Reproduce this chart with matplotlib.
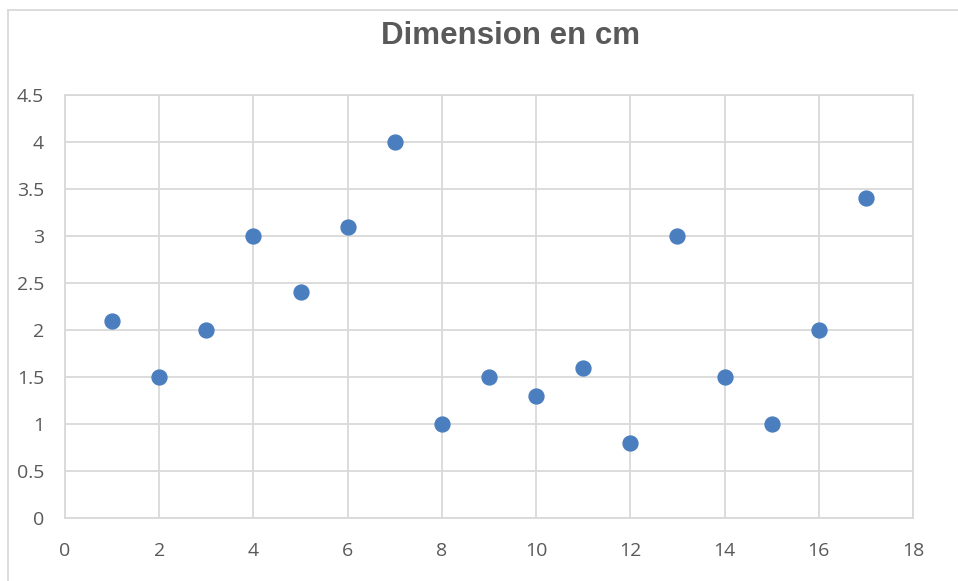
import numpy as np
import matplotlib.pyplot as plt
from matplotlib.lines import Line2D

# Données
x_vals = [1, 2, 3, 4, 5, 6, 7, 8, 9, 10, 11, 12, 13, 14, 15, 16, 17]
y_vals = [2.1, 1.5, 2.0, 3.0, 2.4, 3.1, 4.0, 1.0, 1.5, 1.3, 1.6, 0.8, 3.0, 1.5, 1.0, 2.0, 3.4]
x_ticks = [0, 2, 4, 6, 8, 10, 12, 14, 16, 18]
y_ticks = [0, 0.5, 1, 1.5, 2, 2.5, 3, 3.5, 4, 4.5]
y_labels = ["0", "0.5", "1", "1.5", "2", "2.5", "3", "3.5", "4", "4.5"]

grid_col = "#D9D9D9"
text_col = "#595959"

fig = plt.figure(figsize=(9.58, 5.81), dpi=100)
ax = fig.add_axes([65/958, 1-518/581, (913-65)/958, (518-95)/581])

ax.scatter(x_vals, y_vals, s=115, color="#4A7EBF", zorder=3)

ax.set_xlim(0, 18)
ax.set_ylim(0, 4.5)
ax.set_xticks(x_ticks)
ax.set_yticks(y_ticks)
ax.set_yticklabels(y_labels)
ax.grid(True, color=grid_col, linewidth=1.3)
ax.set_axisbelow(True)
for s in ax.spines.values():
    s.set_color(grid_col)
    s.set_linewidth(1.3)
ax.tick_params(length=0, labelsize=14, labelcolor=text_col)
ax.tick_params(axis="x", pad=17)
ax.tick_params(axis="y", pad=15)
for lab in ax.get_xticklabels() + ax.get_yticklabels():
    lab.set_family("Open Sans")

fig.text(511/958, 1-36/581, "Dimension en cm", ha="center", va="center",
         fontsize=22.5, fontweight="bold", color=text_col, family="Liberation Sans")

# bordure du graphique (haut et gauche)
fig.add_artist(Line2D([8/958, 8/958], [0, 1-10/581], color=grid_col, lw=1.3))
fig.add_artist(Line2D([8/958, 1], [1-10/581, 1-10/581], color=grid_col, lw=1.3))

fig.savefig("out.png", dpi=100)
